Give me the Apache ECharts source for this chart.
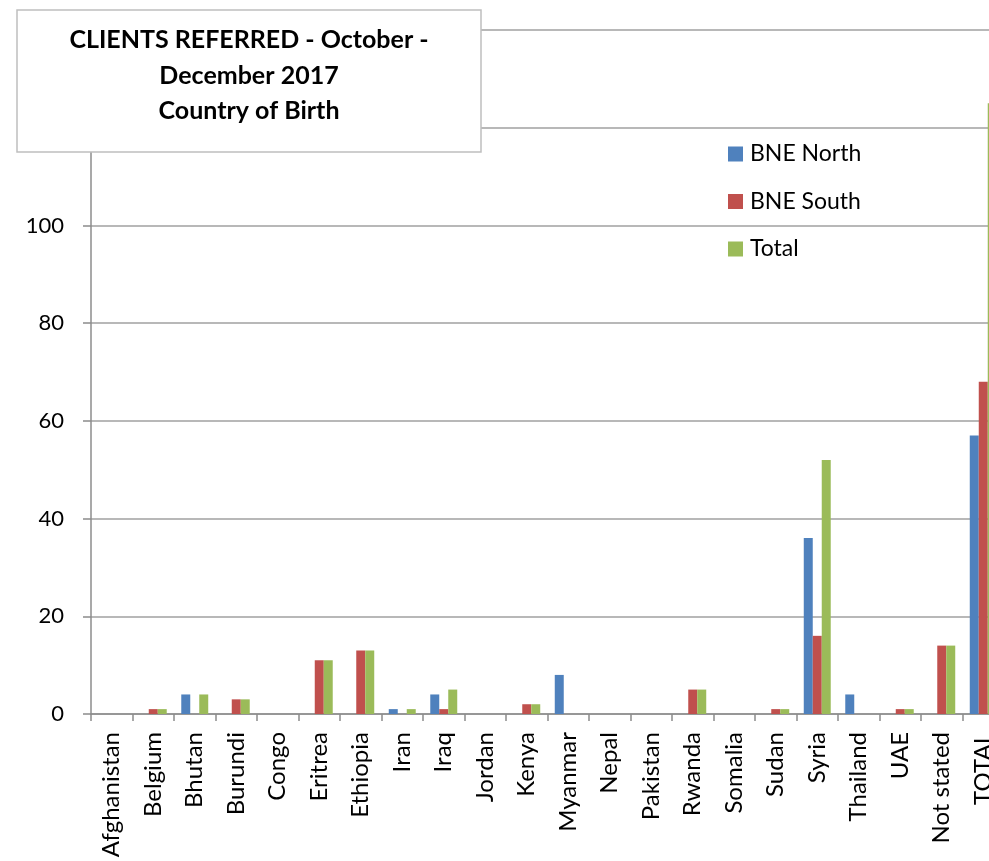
<!DOCTYPE html>
<html>
<head>
<meta charset="utf-8">
<script src="https://cdn.jsdelivr.net/npm/echarts@6/dist/echarts.min.js"></script>
<style>
html,body{margin:0;padding:0;background:#fff;}
#chart{width:989px;height:861px;}
</style>
</head>
<body>
<div id="chart"></div>
<script>
const categories = ['Afghanistan','Belgium','Bhutan','Burundi','Congo','Eritrea','Ethiopia','Iran','Iraq','Jordan','Kenya','Myanmar','Nepal','Pakistan','Rwanda','Somalia','Sudan','Syria','Thailand','UAE','Not stated','TOTAL'];
const bneNorth = [0,0,4,0,0,0,0,1,4,0,0,8,0,0,0,0,0,36,4,0,0,57];
const bneSouth = [0,1,0,3,0,11,13,0,1,0,2,0,0,0,5,0,1,16,0,1,14,68];
const total    = [0,1,4,3,0,11,13,1,5,0,2,0,0,0,5,0,1,52,0,1,14,125];
const titleLines = ['CLIENTS REFERRED - October -','December 2017','Country of Birth'];

const FONT = 'Lato, "Open Sans", sans-serif';
const chart = echarts.init(document.getElementById('chart'));
const titleFont = 'bold 25px ' + FONT;
chart.setOption({
  animation: false,
  backgroundColor: '#fff',
  textStyle: { fontFamily: FONT },
  grid: { left: 91, top: 30, width: 913, height: 684, containLabel: false, outerBoundsMode: 'none' },
  legend: {
    orient: 'vertical', left: 728, top: 142, itemGap: 23.5, padding: 0,
    itemWidth: 15, itemHeight: 15, icon: 'rect',
    textStyle: { fontSize: 23, lineHeight: 24, color: '#000', fontFamily: FONT, padding: [0, 0, 0, 2] },
    data: ['BNE North','BNE South','Total']
  },
  xAxis: {
    type: 'category', data: categories,
    axisLine: { lineStyle: { color: '#8c8c8c', width: 1.5 } },
    axisTick: { show: true, length: 7, lineStyle: { color: '#8c8c8c', width: 1.5 } },
    axisLabel: { rotate: 90, interval: 0, fontSize: 24, color: '#000', margin: 18, fontFamily: FONT }
  },
  yAxis: {
    type: 'value', min: 0, max: 140, interval: 20,
    axisLine: { show: true, lineStyle: { color: '#8c8c8c', width: 1.5 } },
    axisTick: { show: true, length: 8, lineStyle: { color: '#8c8c8c', width: 1.5 } },
    splitLine: { lineStyle: { color: '#a0a0a0', width: 1.5 } },
    axisLabel: { fontSize: 22, color: '#000', margin: 27, fontFamily: FONT }
  },
  series: [
    { name: 'BNE North', type: 'bar', data: bneNorth, barGap: '0%', barCategoryGap: '35%', itemStyle: { color: '#4f81bd' } },
    { name: 'BNE South', type: 'bar', data: bneSouth, barGap: '0%', barCategoryGap: '35%', itemStyle: { color: '#c0504d' } },
    { name: 'Total', type: 'bar', data: total, barGap: '0%', barCategoryGap: '35%', itemStyle: { color: '#9bbb59' } }
  ],
  graphic: [
    { type: 'rect', z: 100, zlevel: 1, shape: { x: 17, y: 10, width: 464, height: 142 },
      style: { fill: '#ffffff', stroke: '#bfbfbf', lineWidth: 1.5 } },
    { type: 'text', z: 101, zlevel: 1, x: 249, y: 40, style: { text: titleLines[0], font: titleFont, fill: '#000', align: 'center', verticalAlign: 'middle' } },
    { type: 'text', z: 101, zlevel: 1, x: 249, y: 75.5, style: { text: titleLines[1], font: titleFont, fill: '#000', align: 'center', verticalAlign: 'middle' } },
    { type: 'text', z: 101, zlevel: 1, x: 249, y: 111, style: { text: titleLines[2], font: titleFont, fill: '#000', align: 'center', verticalAlign: 'middle' } }
  ]
});
</script>
</body>
</html>
